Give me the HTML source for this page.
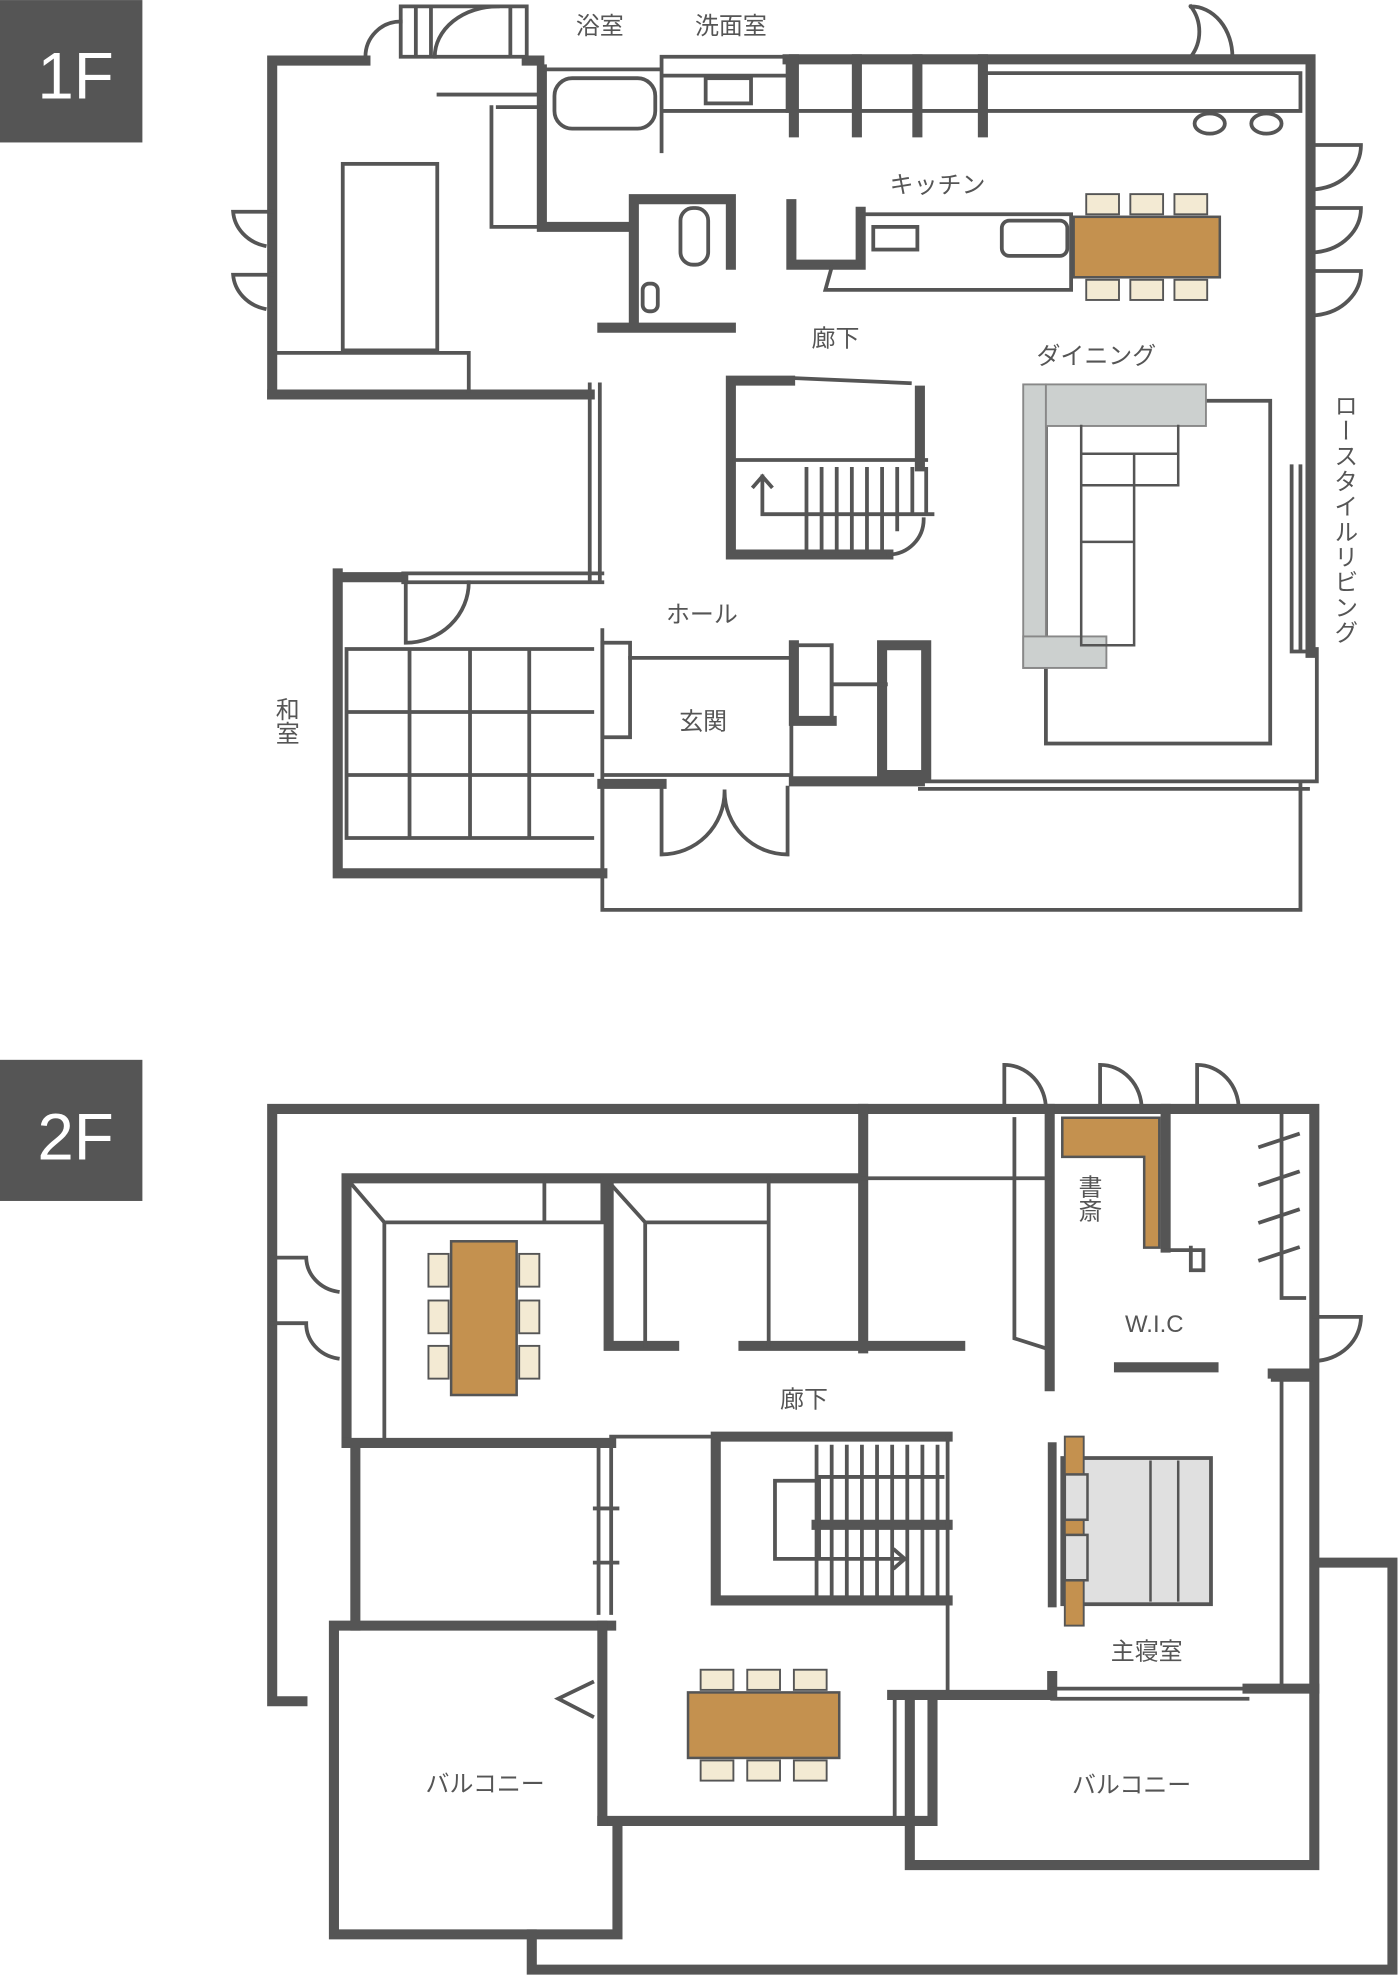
<!DOCTYPE html>
<html><head><meta charset="utf-8"><style>
html,body{margin:0;padding:0;background:#fff;}
svg{display:block;}
text{font-family:"Liberation Sans","Noto Sans CJK JP",sans-serif;fill:#555;font-size:19px;}
</style></head><body>
<svg width="1400" height="1976" viewBox="0 0 1111 1568" xmlns="http://www.w3.org/2000/svg">
<g fill="none" stroke="#555" stroke-linecap="square">
<rect x="0" y="0" width="113" height="113" fill="#555" stroke="none"/>
<rect x="0" y="841" width="113" height="112" fill="#555" stroke="none"/>

<!-- ===== 1F ===== -->
<g stroke-width="8">
<path d="M216,313 L216,48 L290,48"/>
<path d="M418,48 L428,48"/>
<path d="M430,55 L430,180 L500,180"/>
<path d="M625,47 L1040,47 L1040,518"/>
<path d="M216,313 L468,313"/>
<path d="M630,47 V105 M680,47 V105 M728,47 V105 M780,47 V105"/>
<path d="M503,158 H580 V210 M503,158 V258 M478,260 H580"/>
<path d="M628,162 V210 H683 V168"/>
<path d="M627,302 H580 V440 H705 M730,310 V370"/>
<path d="M268,455 V693 H478 M268,458 H320"/>
<path d="M478,622 H525 M630,620 H730 M700,512 V615 H735 V512 H700"/>
<path d="M630,512 V572 H660"/>
</g>
<g stroke-width="3">
<path d="M318,5 H418 V45 H318 Z M330,5 V45 M342,5 V45 M405,5 V45"/>
<path d="M290,45 A28,28 0 0 1 318,17"/>
<path d="M345,45 A50,40 0 0 1 395,5"/>
<path d="M945,45 A33,33 0 0 0 945,5 M978,45 A33,40 0 0 0 945,5"/>
<rect x="440" y="62" width="80" height="40" rx="14"/>
<path d="M432,55 H525 V120 M525,55 V45 H625 V88 M525,60 H625 M525,88 H625"/>
<rect x="560" y="62" width="36" height="20"/>
<path d="M625,88 H1032 V58 M780,58 H1032"/>
<path d="M390,85 V180 H425 M348,75 H425 M395,85 H430"/>
<rect x="272" y="130" width="75" height="148"/>
<path d="M220,280 H372 V310"/>
<path d="M1040,115 H1080 A40,35 0 0 1 1045,150 M1040,165 H1080 A40,35 0 0 1 1045,200 M1040,215 H1080 A40,35 0 0 1 1045,250"/>
<path d="M216,168 H185 A33,30 0 0 0 210,195 M216,218 H185 A33,30 0 0 0 210,245"/>
<ellipse cx="960" cy="98" rx="12" ry="8"/><ellipse cx="1005" cy="98" rx="12" ry="8"/>
<rect x="540" y="165" width="22" height="45" rx="10"/>
<rect x="510" y="225" width="12" height="22" rx="5"/>
<path d="M683,170 H850 V230 L655,230 L660,212"/>
<rect x="693" y="180" width="35" height="18"/>
<rect x="795" y="175" width="52" height="28" rx="6"/>
<path d="M583,365 H735 M640,372 V435 M652,372 V435 M664,372 V435 M676,372 V435 M688,372 V435 M700,372 V435 M712,372 V420 M724,372 V405 M735,372 V405 M605,408 H740 M605,408 V378 M598,386 L605,378 L612,386"/>
<path d="M705,440 A28,28 0 0 0 733,412 M630,300 L722,304"/>
<path d="M468,305 V460 M476,305 V460 M320,455 H478 M320,462 H478"/>
<path d="M322,462 V510 A50,48 0 0 0 372,462"/>
<path d="M275,515 H470 M275,565 H470 M275,615 H470 M275,665 H470 M275,515 V665 M325,515 V665 M373,515 V665 M420,515 V665"/>
<path d="M478,500 V690"/>
<rect x="478" y="510" width="22" height="75"/>
<path d="M500,522 H630 M480,615 H628 M628,520 V612 M660,543 H703 M660,512 V570"/>
<rect x="630" y="512" width="30" height="60"/>
<path d="M525,625 V678 A50,50 0 0 0 575,628 M625,625 V678 A50,50 0 0 1 575,628"/>
<path d="M478,622 V722 H1032 V622 M730,620 H1045 V515 M730,626 H1038"/>
<path d="M1025,370 V517 H1038 M1032,370 V517"/>
<rect x="830" y="318" width="178" height="272"/>
</g>
<g stroke-width="1.5" fill="#ccd0cf" stroke="#888">
<rect x="812" y="305" width="18" height="225"/>
<rect x="830" y="305" width="127" height="33"/>
<rect x="812" y="505" width="66" height="25"/>
</g>
<g stroke-width="2" stroke="#555">
<path d="M858,338 V512 H900 V385 H935 V338 M858,385 H935 M858,430 H900 M858,360 H935 M900,360 V385"/>
</g>
<rect x="852" y="172" width="116" height="48" fill="#c4914f" stroke="#555" stroke-width="2"/>
<g fill="#f3ead3" stroke="#555" stroke-width="1.5">
<rect x="862" y="154" width="26" height="16"/><rect x="897" y="154" width="26" height="16"/><rect x="932" y="154" width="26" height="16"/>
<rect x="862" y="222" width="26" height="16"/><rect x="897" y="222" width="26" height="16"/><rect x="932" y="222" width="26" height="16"/>
</g>

<!-- ===== 2F ===== -->
<g stroke-width="8">
<path d="M240,1350 H216 V880 H1043 V1090 H1010 M1043,1090 V1340 M1043,1240 H1105 V1563 H422 V1535"/>
<path d="M275,1145 V935 H685 M685,880 V1070 M483,935 V1068 H535 M590,1068 H762"/>
<path d="M275,1145 H485 M282,1145 V1290"/>
<path d="M833,880 V1100 M925,880 V990"/>
<path d="M888,1085 H963"/>
<path d="M568,1140 H752 M568,1140 V1270 H752 M648,1210 H752"/>
<path d="M265,1290 H485 M265,1290 V1535 H490 V1445 M478,1445 H740 V1345 M708,1345 H835 M835,1330 V1345 M722,1345 V1480 H1043 V1345 M990,1340 H1043"/>
<path d="M478,1290 V1445"/>
</g>
<g stroke-width="3">
<path d="M797,880 V845 A33,35 0 0 1 830,880 M873,880 V845 A33,35 0 0 1 906,880 M950,880 V845 A33,35 0 0 1 983,880"/>
<path d="M275,935 L305,970 H478 M305,970 V1140 M432,935 V968 M478,935 V968 M485,940 L512,970 H610 M512,970 V1068 M610,935 V1068"/>
<path d="M685,935 H833 M805,888 V1062 L830,1070"/>
<path d="M945,990 V1008 H955 V992 H925 M1017,885 V1030 H1035 M1000,910 L1030,900 M1000,940 L1030,930 M1000,970 L1030,960 M1000,1000 L1030,990"/>
<path d="M1043,1045 H1080 A38,35 0 0 1 1043,1080 M1017,1095 V1340 M1010,1095 H1040"/>
<path d="M216,998 H243 A30,28 0 0 0 268,1025 M216,1050 H243 A30,28 0 0 0 268,1078"/>
<path d="M485,1145 V1280 M475,1148 V1280 M472,1197 H490 M472,1240 H490 M485,1140 H568"/>
<path d="M660,1148 V1205 M672,1148 V1205 M684,1148 V1205 M696,1148 V1205 M708,1148 V1205 M720,1148 V1205 M732,1148 V1205 M744,1148 V1205 M648,1148 V1205 M648,1215 V1265 M660,1215 V1265 M672,1215 V1265 M684,1215 V1265 M696,1215 V1265 M708,1215 V1265 M720,1215 V1265 M732,1215 V1265 M744,1215 V1265"/>
<path d="M650,1172 H748 M615,1175 H650 V1237 M615,1175 V1237 H718 M710,1230 L718,1237 L710,1244"/>
<path d="M752,1140 V1340 M835,1340 H990 M835,1348 H990"/>
<path d="M470,1335 L443,1348 L470,1362 M710,1350 V1443"/>
</g>
<path d="M843,887 H920 V990 H908 V918 H843 Z" fill="#c4914f" stroke="#555" stroke-width="2"/>
<rect x="843" y="1157" width="118" height="116" fill="#e0e0e0" stroke="#555" stroke-width="3"/>
<path d="M913,1160 V1270 M935,1160 V1270" stroke="#555" stroke-width="2" fill="none"/>
<rect x="845" y="1140" width="15" height="150" fill="#c4914f" stroke="#555" stroke-width="1.5"/>
<rect x="832" y="1145" width="6" height="130" fill="#555"/>
<rect x="845" y="1170" width="18" height="36" fill="#e0e0e0" stroke="#555" stroke-width="2"/>
<rect x="845" y="1218" width="18" height="36" fill="#e0e0e0" stroke="#555" stroke-width="2"/>
<rect x="358" y="985" width="52" height="122" fill="#c4914f" stroke="#555" stroke-width="2"/>
<rect x="546" y="1343" width="120" height="52" fill="#c4914f" stroke="#555" stroke-width="2"/>
<g fill="#f3ead3" stroke="#555" stroke-width="1.5">
<rect x="340" y="995" width="16" height="26"/><rect x="340" y="1032" width="16" height="26"/><rect x="340" y="1068" width="16" height="26"/>
<rect x="412" y="995" width="16" height="26"/><rect x="412" y="1032" width="16" height="26"/><rect x="412" y="1068" width="16" height="26"/>
<rect x="556" y="1325" width="26" height="16"/><rect x="593" y="1325" width="26" height="16"/><rect x="630" y="1325" width="26" height="16"/>
<rect x="556" y="1397" width="26" height="16"/><rect x="593" y="1397" width="26" height="16"/><rect x="630" y="1397" width="26" height="16"/>
</g>
</g>

<text x="60" y="78" text-anchor="middle" style="fill:#fff;font-size:52px">1F</text>
<text x="60" y="920" text-anchor="middle" style="fill:#fff;font-size:52px">2F</text>
<text x="476" y="27" text-anchor="middle">浴室</text>
<text x="580" y="27" text-anchor="middle">洗面室</text>
<text x="744" y="153" text-anchor="middle">キッチン</text>
<text x="663" y="275" text-anchor="middle">廊下</text>
<text x="870" y="289" text-anchor="middle">ダイニング</text>
<text x="557" y="494" text-anchor="middle">ホール</text>
<text x="558" y="579" text-anchor="middle">玄関</text>
<text x="1066" y="312" style="writing-mode:vertical-rl;font-size:19px;letter-spacing:1px">ロースタイルリビング</text>
<text x="226" y="553" style="writing-mode:vertical-rl">和室</text>
<text x="638" y="1117" text-anchor="middle">廊下</text>
<text x="916" y="1057" text-anchor="middle">W.I.C</text>
<text x="863" y="932" style="writing-mode:vertical-rl">書斎</text>
<text x="910" y="1317" text-anchor="middle">主寝室</text>
<text x="385" y="1422" text-anchor="middle">バルコニー</text>
<text x="898" y="1423" text-anchor="middle">バルコニー</text>
</svg>
</body></html>
